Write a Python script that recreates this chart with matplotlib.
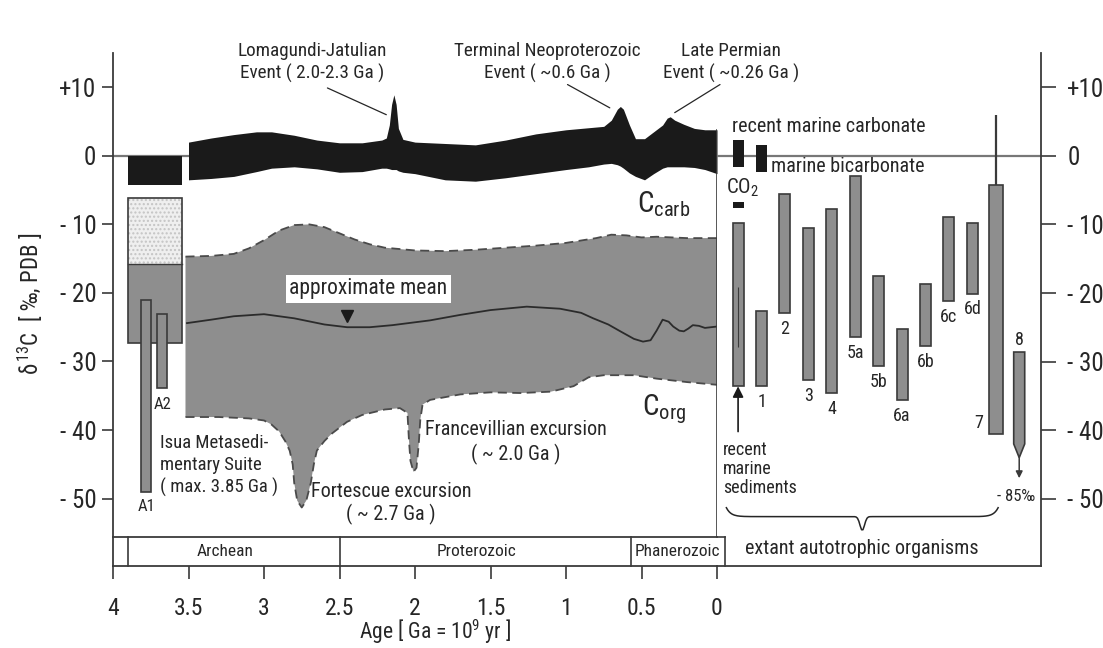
import numpy as np
import matplotlib
matplotlib.use('Agg')
import matplotlib.pyplot as plt
from matplotlib import font_manager

# pick a narrow sans if there is one
names = {f.name for f in font_manager.fontManager.ttflist}
FONT = next((n for n in ['Liberation Sans Narrow', 'Roboto Condensed', 'Open Sans Condensed',
                         'Liberation Sans'] if n in names), 'DejaVu Sans')
plt.rcParams['font.family'] = [FONT, 'DejaVu Sans']
plt.rcParams['mathtext.fontset'] = 'custom'
plt.rcParams['mathtext.rm'] = FONT
plt.rcParams['mathtext.it'] = FONT

INK = '#262626'
GRAY = '#8e8e8e'
EDGE = '#3a3a3a'
BLACK = '#1a1a1a'

# ---- data (age in Ga, delta13C in permil PDB) ----
carb_age = [3.5, 3.35, 3.2, 3.05, 2.95, 2.8, 2.65, 2.5, 2.35, 2.22, 2.19, 2.17, 2.155, 2.14, 2.125,
            2.11, 2.08, 2.0, 1.8, 1.6, 1.4, 1.2, 1.0, 0.85, 0.75, 0.70, 0.66, 0.64, 0.62, 0.58, 0.54,
            0.48, 0.42, 0.36, 0.33, 0.31, 0.28, 0.22, 0.15, 0.08, 0.0]
carb_top = [2.0, 2.6, 3.1, 3.5, 3.5, 3.0, 2.3, 1.9, 1.9, 2.3, 2.6, 4.5, 7.5, 8.9, 7.5,
            4.0, 2.4, 2.0, 1.8, 1.6, 2.3, 3.2, 3.8, 4.1, 4.3, 5.2, 6.8, 7.2, 6.8, 4.5, 2.5,
            2.5, 3.5, 4.5, 5.5, 5.7, 5.2, 4.6, 4.0, 3.8, 3.8]
carb_bot = [-3.5, -3.3, -3.0, -2.3, -1.8, -1.6, -1.9, -2.4, -2.3, -1.8, -1.8, -1.9, -2.0, -2.0, -2.0,
            -2.2, -2.4, -2.6, -3.5, -3.7, -3.2, -2.6, -2.0, -1.6, -1.2, -1.1, -1.3, -1.5, -1.8, -2.5, -3.0,
            -3.5, -2.6, -1.8, -1.6, -1.6, -1.6, -1.6, -1.7, -2.0, -2.6]

org_top_age = [3.52, 3.35, 3.2, 3.1, 3.0, 2.9, 2.8, 2.7, 2.6, 2.5, 2.4, 2.3, 2.2, 2.0, 1.8, 1.6,
               1.4, 1.2, 1.0, 0.8, 0.7, 0.6, 0.5, 0.4, 0.2, 0.0]
org_top = [-14.7, -14.6, -14.3, -13.5, -12.3, -10.9, -10.1, -10.0, -10.4, -11.3, -12.2, -12.9, -13.4,
           -13.8, -13.9, -13.7, -13.4, -13.1, -12.7, -12.0, -11.5, -11.6, -11.9, -11.8, -12.0, -12.0]
org_bot_age = [3.52, 3.3, 3.1, 3.0, 2.95, 2.9, 2.86, 2.83, 2.81, 2.80, 2.78, 2.75, 2.72, 2.69, 2.67,
               2.65, 2.60, 2.55, 2.45, 2.35, 2.2, 2.1, 2.05, 2.04, 2.03, 2.01, 1.99, 1.975, 1.965,
               1.95, 1.9, 1.8, 1.7, 1.5, 1.3, 1.1, 0.95, 0.85, 0.75, 0.55, 0.4, 0.2, 0.0]
org_bot = [-38.1, -38.1, -38.3, -38.6, -39.2, -40.2, -41.6, -43.0, -45.0, -47.7, -50.3, -51.3, -50.3,
           -47.7, -45.0, -43.0, -41.6, -40.5, -38.8, -37.8, -37.0, -36.8, -37.5, -41.5, -44.5, -46.1,
           -45.5, -42.0, -38.5, -36.3, -35.6, -35.2, -34.8, -34.5, -34.6, -34.4, -33.6, -32.3, -32.0,
           -32.0, -32.5, -33.0, -33.4]

mean_age = [3.51, 3.35, 3.2, 3.0, 2.8, 2.6, 2.45, 2.3, 2.15, 1.9, 1.7, 1.5, 1.26, 1.04, 0.9, 0.82,
            0.72, 0.64, 0.55, 0.49, 0.44, 0.40, 0.36, 0.32, 0.29, 0.25, 0.22, 0.19, 0.16, 0.12,
            0.08, 0.04, 0.0]
mean_val = [-24.4, -23.9, -23.4, -23.1, -23.7, -24.6, -25.0, -25.0, -24.7, -24.0, -23.2, -22.5, -22.0,
            -22.3, -22.9, -23.7, -24.6, -25.6, -26.7, -27.1, -26.9, -25.5, -23.9, -24.2, -24.9, -25.5,
            -25.6, -25.2, -24.7, -24.8, -25.1, -25.0, -24.9]

# Isua metasediments (age span 3.9-3.54 Ga)
isua_span = (3.9, 3.54)
isua_carb = (0.0, -4.2)
isua_dotted = (-6.1, -15.8)
isua_org = (-15.8, -27.3)
a_names = ['A1', 'A2']
a_age = [3.78, 3.675]
a_top = [-21.0, -23.1]
a_bot = [-49.0, -33.9]

eras = ['', 'Archean', 'Proterozoic', 'Phanerozoic']
era_bounds = [4.0, 3.9, 2.5, 0.57, -0.05]

# extant organisms
org_cats = ['sed', '1', '2', '3', '4', '5a', '5b', '6a', '6b', '6c', '6d', '7', '8']
org_hi = [-9.8, -22.6, -5.5, -10.5, -7.7, -2.9, -17.5, -25.3, -18.7, -8.9, -9.8, -4.2, -28.6]
org_lo = [-33.6, -33.6, -22.9, -32.7, -34.6, -26.4, -30.7, -35.6, -27.7, -21.2, -20.1, -40.6, -42.0]
sed_inner = (-19.1, -27.9)
seven_top = 6.0
eight_tip = -44.0
eight_arrow = -47.0
carbonate = (2.3, -1.6)
bicarbonate = (1.6, -2.3)
co2 = (-6.7, -7.6)

yticks = [10, 0, -10, -20, -30, -40, -50]
ylabels = ['+10', '0', '- 10', '- 20', '- 30', '- 40', '- 50']
xticks = [4, 3.5, 3, 2.5, 2, 1.5, 1, 0.5, 0]
xlabels = ['4', '3.5', '3', '2.5', '2', '1.5', '1', '0.5', '0']

W, H = 1103, 648
fig = plt.figure(figsize=(W / 100, H / 100), dpi=100)
fig.patch.set_facecolor('white')


def box(l, t, r, b):
    return [l / W, 1 - b / H, (r - l) / W, (b - t) / H]


ax = fig.add_axes(box(113, 53, 717, 537))
ax_era = fig.add_axes(box(113, 537, 717, 566))
ax_r = fig.add_axes(box(717, 53, 1041, 566))
for a in (ax, ax_era, ax_r):
    a.patch.set_visible(False)

TOP = 15.0
ax.set_xlim(4, 0)
ax.set_ylim(-55.6, TOP)
ax_r.set_xlim(-0.9, 12.93)
ax_r.set_ylim(-59.8, TOP)
ax_era.set_xlim(4, 0)
ax_era.set_ylim(0, 1)

# ---- main panel ----
for s in ['top', 'right', 'bottom']:
    ax.spines[s].set_visible(False)
ax.spines['left'].set_color(EDGE)
ax.spines['left'].set_linewidth(1.3)
ax.set_xticks([])
ax.set_yticks(yticks)
ax.set_yticklabels(ylabels, fontsize=18, color=INK)
ax.tick_params(axis='y', length=8, width=1.2, color=EDGE, pad=4)

ax.axhline(0, color='#777777', lw=1.6, zorder=1)
ax.fill_between(carb_age, carb_bot, carb_top, color=BLACK, lw=0, zorder=3)

# organic carbon field as one closed outline
ax.fill(np.concatenate([org_top_age, org_bot_age[::-1]]), np.concatenate([org_top, org_bot[::-1]]),
        facecolor=GRAY, edgecolor='none', zorder=2)
ax.plot(org_top_age, org_top, ls=(0, (5, 3)), color='#4a4a4a', lw=1.3, zorder=3)
ax.plot(org_bot_age, org_bot, ls=(0, (5, 3)), color='#4a4a4a', lw=1.3, zorder=3)
ax.plot(mean_age, mean_val, color='#2b2b2b', lw=1.3, zorder=4)

# separator between geological record and extant organisms
ax.axvline(0, ymin=0, ymax=(carb_top[-1] + 55.6) / (TOP + 55.6), color=EDGE, lw=1.2, zorder=5)

# Isua block
iw = isua_span[0] - isua_span[1]
ic = (isua_span[0] + isua_span[1]) / 2
ax.bar(ic, isua_carb[1] - isua_carb[0], bottom=isua_carb[0], width=iw, color=BLACK, lw=0, zorder=3)
ax.bar(ic, isua_dotted[1] - isua_dotted[0], bottom=isua_dotted[0], width=iw, color='#efefef',
       hatch='....', edgecolor='#c4c4c4', lw=0, zorder=2)
ax.bar(ic, isua_org[1] - isua_org[0], bottom=isua_org[0], width=iw, color=GRAY, lw=0, zorder=2)
ax.bar(ic, isua_org[1] - isua_dotted[0], bottom=isua_dotted[0], width=iw, fill=False,
       edgecolor=EDGE, lw=1.2, zorder=3)
ax.plot([isua_span[0], isua_span[1]], [isua_dotted[1]] * 2, color=EDGE, lw=1.0, zorder=3)
ax.bar(a_age, np.subtract(a_top, a_bot), bottom=a_bot, width=0.066, color=GRAY,
       edgecolor=EDGE, lw=1.2, zorder=4)
ax.text(a_age[0], a_bot[0] - 2.2, a_names[0], ha='center', va='center', fontsize=12, color=INK)
ax.text(a_age[1], a_bot[1] - 2.3, a_names[1], ha='center', va='center', fontsize=12, color=INK)
ax.text(3.69, -40.6, 'Isua Metasedi-\nmentary Suite\n( max. 3.85 Ga )', ha='left', va='top',
        fontsize=13.5, color=INK, linespacing=1.25)

# labels in the panel
ax.text(2.31, -19.4, 'approximate mean', ha='center', va='center', fontsize=15.5, color=INK,
        bbox=dict(facecolor='white', edgecolor='none', pad=2.5), zorder=6)
ax.plot([2.45], [-23.3], marker='v', color='#1a1a1a', ms=8, zorder=6)
ax.text(0.53, -7.0, r'C$_{\rm carb}$', ha='left', va='center', fontsize=21, color=INK)
ax.text(0.50, -37.0, r'C$_{\rm org}$', ha='left', va='center', fontsize=21, color=INK)
ax.text(1.33, -41.8, 'Francevillian excursion\n( ~ 2.0 Ga )', ha='center', va='center',
        fontsize=14.5, color=INK, linespacing=1.3)
ax.text(2.16, -50.7, 'Fortescue excursion\n( ~ 2.7 Ga )', ha='center', va='center',
        fontsize=14.5, color=INK, linespacing=1.2)

# event annotations
ax.text(2.68, 13.6, 'Lomagundi-Jatulian\nEvent ( 2.0-2.3 Ga )', ha='center', va='center',
        fontsize=13.8, color=INK, linespacing=1.3, clip_on=False)
ax.annotate('', xy=(2.19, 6.0), xytext=(2.58, 9.9),
            arrowprops=dict(arrowstyle='-', color=INK, lw=0.9, shrinkA=0, shrinkB=0))
ax.text(1.125, 13.6, 'Terminal Neoproterozoic\nEvent ( ~0.6 Ga )', ha='center', va='center',
        fontsize=13.8, color=INK, linespacing=1.3, clip_on=False)
ax.annotate('', xy=(0.71, 7.0), xytext=(0.99, 10.4),
            arrowprops=dict(arrowstyle='-', color=INK, lw=0.9, shrinkA=0, shrinkB=0))
ax.text(-0.095, 13.6, 'Late Permian\nEvent ( ~0.26 Ga )', ha='center', va='center',
        fontsize=13.8, color=INK, linespacing=1.3, clip_on=False)
ax.annotate('', xy=(0.28, 6.3), xytext=(-0.02, 10.4),
            arrowprops=dict(arrowstyle='-', color=INK, lw=0.9, shrinkA=0, shrinkB=0),
            annotation_clip=False)

# ---- era band ----
ax_era.spines['right'].set_visible(False)
for s in ['left', 'top', 'bottom']:
    ax_era.spines[s].set_color(EDGE)
    ax_era.spines[s].set_linewidth(1.3)
ax_era.set_yticks([])
ax_era.set_xticks(xticks)
ax_era.set_xticklabels(xlabels, fontsize=17, color=INK)
ax_era.tick_params(axis='x', direction='out', length=9, width=1.2, color=EDGE, pad=13)
for i, name in enumerate(eras):
    lo, hi = era_bounds[i], era_bounds[i + 1]
    ax_era.plot([hi, hi], [0, 1], color=EDGE, lw=1.2, clip_on=False)
    if name:
        shift = 0.0 if name == 'Phanerozoic' else 0.06
        ax_era.text((lo + hi) / 2 + shift, 0.5, name, ha='center', va='center', fontsize=12.5, color=INK)
ax_era.plot([0, era_bounds[-1]], [1, 1], color=EDGE, lw=1.2, clip_on=False)

fig.text(435 / W, 1 - 632 / H, 'Age [ Ga = 10$^9$ yr ]', ha='center', va='center', fontsize=15.5, color=INK)
fig.text(30 / W, 1 - 304 / H, r'$\delta^{13}$C  [ ‰, PDB ]', ha='center', va='center', rotation=90,
         fontsize=16.5, color=INK)

# ---- extant organisms panel ----
for s in ['top', 'left']:
    ax_r.spines[s].set_visible(False)
for s in ['right', 'bottom']:
    ax_r.spines[s].set_color(EDGE)
    ax_r.spines[s].set_linewidth(1.3)
ax_r.set_xticks([])
ax_r.yaxis.tick_right()
ax_r.set_yticks(yticks)
ax_r.set_yticklabels(ylabels, fontsize=18, color=INK)
ax_r.tick_params(axis='y', length=11, width=1.2, color=EDGE, pad=8)
ax_r.axhline(0, color='#777777', lw=1.6, zorder=1)

xs = np.arange(len(org_cats))
widths = [0.47] * len(org_cats)
widths[11] = 0.6
ax_r.bar(xs[:-1], np.subtract(org_hi, org_lo)[:-1], bottom=org_lo[:-1], width=widths[:-1],
         color=GRAY, edgecolor=EDGE, lw=1.2, zorder=3)
# bar 8 ends in a point (values continue to -85 permil)
x8 = xs[-1]
ax_r.fill([x8 - 0.235, x8 + 0.235, x8 + 0.235, x8, x8 - 0.235],
          [org_hi[-1], org_hi[-1], org_lo[-1], eight_tip, org_lo[-1]],
          facecolor=GRAY, edgecolor=EDGE, lw=1.2, zorder=3)
ax_r.annotate('', xy=(x8, eight_arrow), xytext=(x8, eight_tip),
              arrowprops=dict(arrowstyle='-|>', color=EDGE, lw=1.1, mutation_scale=10,
                              shrinkA=0, shrinkB=0))
ax_r.text(x8 - 0.15, -49.7, '- 85‰', ha='center', va='center', fontsize=12, color=INK)
ax_r.vlines(xs[11], org_hi[11], seven_top, color=EDGE, lw=1.6, zorder=2)
ax_r.vlines(xs[0], sed_inner[1], sed_inner[0], color=EDGE, lw=0.8, zorder=4)

for i, c in enumerate(org_cats):
    if c == 'sed':
        continue
    if c == '7':
        ax_r.text(xs[i] - 0.72, org_lo[i] + 1.7, c, ha='center', va='center', fontsize=13, color=INK)
    elif c == '8':
        ax_r.text(xs[i], org_hi[i] + 1.8, c, ha='center', va='center', fontsize=13, color=INK)
    else:
        ax_r.text(xs[i], org_lo[i] - 2.3, c, ha='center', va='center', fontsize=13, color=INK)

# carbonate / bicarbonate / CO2 marks
ax_r.bar([0, 1], [carbonate[0] - carbonate[1], bicarbonate[0] - bicarbonate[1]],
         bottom=[carbonate[1], bicarbonate[1]], width=0.47, color=BLACK, lw=0, zorder=4)
ax_r.bar(0, co2[0] - co2[1], bottom=co2[1], width=0.47, color=BLACK, lw=0, zorder=4)
ax_r.text(-0.25, 4.3, 'recent marine carbonate', ha='left', va='center', fontsize=14.5, color=INK)
ax_r.text(1.42, -1.6, 'marine bicarbonate', ha='left', va='center', fontsize=14.5, color=INK)
ax_r.text(-0.5, -4.7, 'CO$_2$', ha='left', va='center', fontsize=15, color=INK)

ax_r.annotate('', xy=(0, org_lo[0]), xytext=(0, -40.2),
              arrowprops=dict(arrowstyle='-|>', color=BLACK, lw=1.2, mutation_scale=16,
                              shrinkA=0, shrinkB=0))
ax_r.text(-0.65, -41.6, 'recent\nmarine\nsediments', ha='left', va='top', fontsize=13, color=INK,
          linespacing=1.05)

# curly brace under the organisms
bx0, bx1 = -0.5, 11.1
t = np.linspace(0, 1, 200)
half = np.where(t < 0.5, t, 1 - t) * 2
curl = 1 - np.exp(-half * 30)
tip = np.exp(-((t - 0.5) / 0.012) ** 2)
ax_r.plot(bx0 + (bx1 - bx0) * t, -51.3 - 1.3 * curl - 2.0 * tip, color=INK, lw=1.1)
ax_r.text(5.3, -57.2, 'extant autotrophic organisms', ha='center', va='center', fontsize=14.5, color=INK)

fig.savefig('out.png', dpi=100)
